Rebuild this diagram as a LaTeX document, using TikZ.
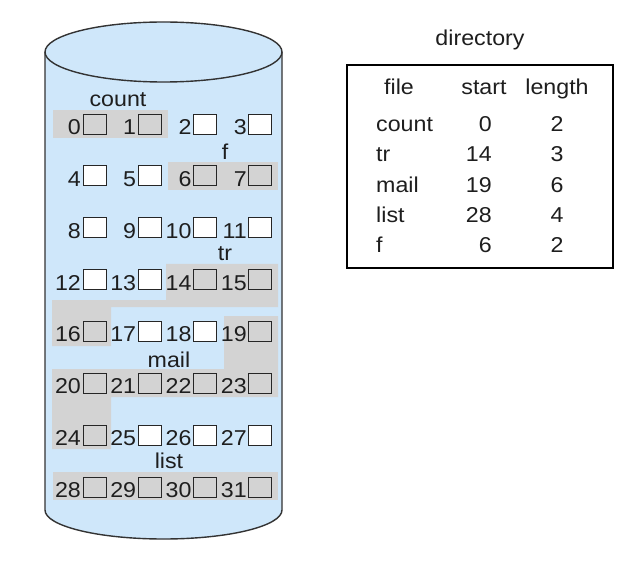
\documentclass[tikz,border=0pt]{standalone}
\usepackage{fontspec}
\setmainfont{Liberation Sans}[FakeStretch=1.08]
\definecolor{cylblue}{RGB}{207,231,250}
\definecolor{usedgray}{RGB}{211,211,211}
\definecolor{ink}{RGB}{30,30,30}
\begin{document}
\begin{tikzpicture}[x=1pt,y=-1pt,
  txt/.style={inner sep=0pt, font=\fontsize{21.5}{24}\selectfont, text=ink},
  blk/.style={draw=black!85, line width=0.9pt, minimum width=23pt, minimum height=20pt, inner sep=0pt, fill=white},
  used/.style={blk, fill=usedgray},
  hl/.style={fill=usedgray},
  cyl/.style={fill=cylblue, draw=black!80, line width=1.4pt}]
\useasboundingbox (0,0) rectangle (632,564);
\fill[white] (0,0) rectangle (632,564);
% cylinder
\filldraw[cyl] (45,52) -- (45,510) .. controls (45,526.02) and (98.05,539) .. (163.5,539)
  .. controls (228.95,539) and (282,526.02) .. (282,510) -- (282,52);
\filldraw[cyl] (163.5,52) ellipse [x radius=118.5, y radius=30];
% allocated regions
\fill[hl] (53,110) rectangle (168,138);
\fill[hl] (168,162) rectangle (278,190);
\fill[hl] (166,264) -- (278,264) -- (278,307) -- (111,307) -- (111,346) -- (52,346) -- (52,300) -- (166,300) -- cycle;
\fill[hl] (224,316) -- (278,316) -- (278,397) -- (111,397) -- (111,449) -- (52,449) -- (52,369) -- (224,369) -- cycle;
\fill[hl] (53,472) rectangle (278,500);
% blocks
\foreach \i/\st in {0/used,1/used,2/blk,3/blk,4/blk,5/blk,6/used,7/used,
  8/blk,9/blk,10/blk,11/blk,12/blk,13/blk,14/used,15/used,
  16/used,17/blk,18/blk,19/used,20/used,21/used,22/used,23/used,
  24/used,25/blk,26/blk,27/blk,28/used,29/used,30/used,31/used}{
  \pgfmathsetmacro\bx{94.5+55.3*mod(\i,4)}
  \pgfmathsetmacro\by{124+51.86*int(\i/4)}
  \node[\st] (b\i) at (\bx,\by) {};
  \node[txt, anchor=base east] (n\i) at ([xshift=-1.5pt]b\i.south west) {\i};
}
% file labels
\node[txt, anchor=base] (lcount) at (118,107) {count};
\node[txt, anchor=base] (lf) at (225,160) {f};
\node[txt, anchor=base] (ltr) at (225,261) {tr};
\node[txt, anchor=base] (lmail) at (169,367) {mail};
\node[txt, anchor=base] (llist) at (169,468) {list};
% directory
\node[txt, anchor=base] (dir) at (480,46) {directory};
\node[draw=black, line width=1.8pt, minimum width=266pt, minimum height=203pt, inner sep=0pt] (tbl) at (480,166.5) {};
\node[txt, anchor=base] (hfile) at (399,95) {file};
\node[txt, anchor=base] (hstart) at (484,95) {start};
\node[txt, anchor=base] (hlen) at (557,95) {length};
\foreach \nm/\s/\l/\yy [count=\k] in {count/0/2/132, tr/14/3/162, mail/19/6/193, list/28/4/223, f/6/2/253}{
  \node[txt, anchor=base west] (f\k) at (376,\yy) {\nm};
  \node[txt, anchor=base east] (s\k) at (492,\yy) {\s};
  \node[txt, anchor=base] (l\k) at (557,\yy) {\l};
}
\end{tikzpicture}
\end{document}
